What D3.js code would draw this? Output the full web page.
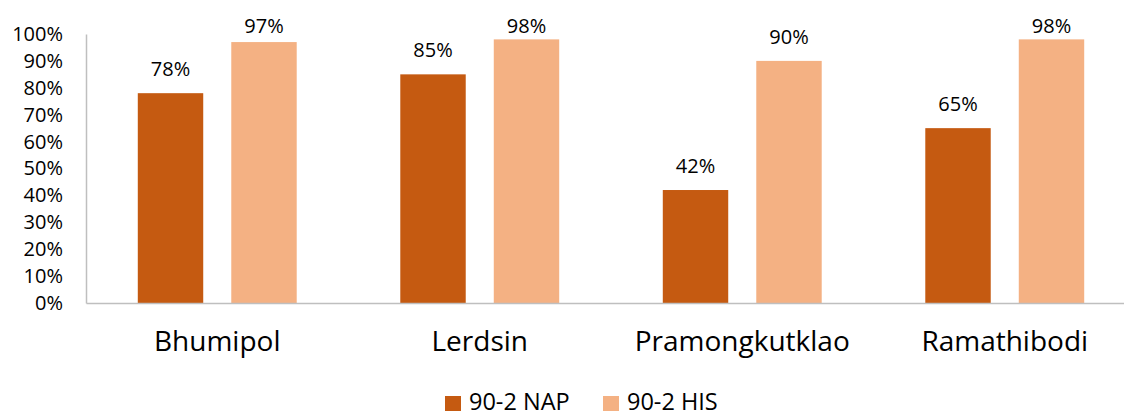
<!DOCTYPE html>
<html>
<head>
<meta charset="utf-8">
<script src="https://cdn.jsdelivr.net/npm/d3@7"></script>
<style>
  html, body { margin: 0; padding: 0; background: #fff; }
  text { font-family: "Open Sans", sans-serif; fill: #000; }
</style>
</head>
<body>
<svg id="chart" width="1124" height="418"></svg>
<script>
const categories = ["Bhumipol", "Lerdsin", "Pramongkutklao", "Ramathibodi"];
const seriesNames = ["90-2 NAP", "90-2 HIS"];
const napValues = [0.78, 0.85, 0.42, 0.65];
const hisValues = [0.97, 0.98, 0.90, 0.98];
const yTicks = [0, 0.1, 0.2, 0.3, 0.4, 0.5, 0.6, 0.7, 0.8, 0.9, 1.0];
const colors = ["#C55A11", "#F4B183"];

const seriesValues = [napValues, hisValues];
const data = categories.map((c, i) => ({
  category: c,
  values: seriesNames.map((s, j) => ({ series: s, idx: j, value: seriesValues[j][i] }))
}));

const svg = d3.select("#chart");
const mLeft = 86, mRight = 1136, mTop = 34, mBottom = 303;

const x0 = d3.scaleBand().domain(categories).range([mLeft, mRight]).paddingInner(0).paddingOuter(0);
const x1 = d3.scaleBand().domain(seriesNames).range([0, x0.bandwidth()]).paddingInner(0.3).paddingOuter(0.554);
const y = d3.scaleLinear().domain([0, 1]).range([mBottom, mTop]);

// Bars
const groups = svg.append("g").selectAll("g").data(data).join("g")
  .attr("transform", d => `translate(${x0(d.category)},0)`);

groups.selectAll("rect").data(d => d.values).join("rect")
  .attr("x", d => x1(d.series))
  .attr("y", d => y(d.value))
  .attr("width", x1.bandwidth())
  .attr("height", d => y(0) - y(d.value))
  .attr("fill", d => colors[d.idx]);

// Value labels
groups.selectAll("text.val").data(d => d.values).join("text")
  .attr("class", "val")
  .attr("x", d => x1(d.series) + x1.bandwidth() / 2)
  .attr("y", d => Math.max(y(d.value) - 17, 33))
  .attr("text-anchor", "middle")
  .style("font-size", "20px")
  .text(d => d3.format(".0%")(d.value));

// Y axis
const yAxis = d3.axisLeft(y).tickValues(yTicks).tickFormat(d3.format(".0%")).tickSize(0).tickPadding(23);
const yg = svg.append("g").attr("transform", `translate(${mLeft},0)`).call(yAxis);
yg.select(".domain").attr("stroke", "#BFBFBF").attr("stroke-width", 1.5);
yg.selectAll(".tick text").style("font-size", "20px").style("font-family", "Open Sans, sans-serif").attr("fill", "#000");

// X axis
const xAxis = d3.axisBottom(x0).tickSize(0).tickPadding(28);
const xg = svg.append("g").attr("transform", `translate(0,${mBottom})`).call(xAxis);
xg.select(".domain").attr("stroke", "#BFBFBF").attr("stroke-width", 1.5);
xg.selectAll(".tick text").style("font-size", "28px").style("font-family", "Open Sans, sans-serif").attr("fill", "#000");

// Legend
const legendX = [445, 603];
const lg = svg.append("g");
seriesNames.forEach((s, i) => {
  lg.append("rect").attr("x", legendX[i]).attr("y", 396).attr("width", 16).attr("height", 15).attr("fill", colors[i]);
  lg.append("text").attr("x", legendX[i] + 24).attr("y", 410).style("font-size", "23.5px").text(s);
});
</script>
</body>
</html>
